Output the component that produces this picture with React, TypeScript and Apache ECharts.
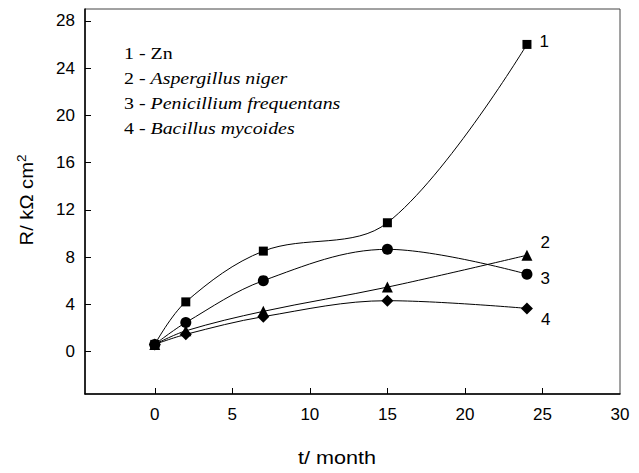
import React, { useEffect, useRef } from "react";
import * as echarts from "echarts";

const months = [0, 2, 7, 15, 24];
const znValues = [0.6, 4.2, 8.5, 10.9, 26.0];
const aspergillusValues = [0.6, 1.75, 3.4, 5.45, 8.15];
const penicilliumValues = [0.6, 2.45, 6.0, 8.65, 6.55];
const bacillusValues = [0.6, 1.45, 2.95, 4.3, 3.65];
const xTickLabels = [0, 5, 10, 15, 20, 25, 30];
const xTickMarks = [0, 5, 10, 15, 20, 25];
const yTickLabels = [0, 4, 8, 12, 16, 20, 24, 28];
const seriesTags = ["1", "2", "3", "4"];
const legendNames = ["Zn", "Aspergillus niger", "Penicillium frequentans", "Bacillus mycoides"];

export default function App() {
  const ref = useRef<HTMLDivElement>(null);
  useEffect(() => {
    if (!ref.current) return;
    const chart = echarts.init(ref.current, null, { renderer: "svg" });
    const mk = (
      vals: number[],
      symbol: string,
      size: number,
      tag: string,
      dy: number
    ) => ({
      type: "line",
      smooth: 0.35,
      symbol,
      symbolSize: size,
      showAllSymbol: true,
      lineStyle: { color: "#000", width: 1 },
      itemStyle: { color: "#000" },
      data: vals.map((v, i) => {
        const d: any = { value: [months[i], v] };
        if (i === vals.length - 1) {
          d.label = {
            show: true,
            formatter: tag,
            position: "right",
            distance: 8,
            offset: [0, dy],
            fontFamily: "Liberation Sans",
            fontSize: 17,
            color: "#000",
          };
        }
        return d;
      }),
      z: 3,
    });
    const legendFont = 17;
    chart.setOption({
      animation: false,
      backgroundColor: "#fff",
      grid: {
        left: 85,
        right: 19,
        top: 9,
        bottom: 79,
        show: true,
        borderColor: "#444",
        borderWidth: 1,
        containLabel: false,
      },
      xAxis: {
        type: "value",
        min: -4.5,
        max: 30,
        splitLine: { show: false },
        axisLine: { onZero: false, lineStyle: { color: "#000", width: 1.5 } },
        axisTick: {
          inside: true,
          length: 6,
          customValues: xTickMarks,
          lineStyle: { color: "#000" },
        },
        axisLabel: {
          customValues: xTickLabels,
          margin: 12,
          fontFamily: "Liberation Sans",
          fontSize: 17,
          color: "#000",
        },
      },
      yAxis: {
        type: "value",
        min: -3.6,
        max: 29,
        splitLine: { show: false },
        axisLine: { show: true, onZero: false, lineStyle: { color: "#000", width: 1.5 } },
        axisTick: {
          show: true,
          inside: true,
          length: 6,
          customValues: yTickLabels,
          lineStyle: { color: "#000" },
        },
        axisLabel: {
          customValues: yTickLabels,
          margin: 10,
          fontFamily: "Liberation Sans",
          fontSize: 17,
          color: "#000",
        },
      },
      graphic: [
        {
          type: "text",
          x: 337,
          y: 458,
          scaleX: 1.2,
          style: {
            text: "t/ month",
            align: "center",
            verticalAlign: "middle",
            font: '18px "Liberation Sans"',
            fill: "#000",
          },
        },
        {
          type: "text",
          x: 27,
          y: 200,
          rotation: Math.PI / 2,
          scaleX: 1.12,
          style: {
            text: "{a|R/ kΩ cm}{s|2}",
            align: "center",
            verticalAlign: "middle",
            fill: "#000",
            rich: {
              a: { fontFamily: "Liberation Sans", fontSize: 18, fill: "#000" },
              s: {
                fontFamily: "Liberation Sans",
                fontSize: 12,
                fill: "#000",
                verticalAlign: "top",
                padding: [0, 0, 11, 0],
              },
            },
          },
        },
        ...legendNames.map((n, i) => ({
          type: "text",
          x: 124,
          y: 53 + i * 25,
          scaleX: 1.17,
          style: {
            text: `{n|${seriesTags[i]} - }{${i === 0 ? "n" : "i"}|${n}}`,
            verticalAlign: "middle",
            rich: {
              n: {
                fontFamily: "Liberation Serif",
                fontSize: legendFont,
                fill: "#000",
              },
              i: {
                fontFamily: "Liberation Serif",
                fontSize: legendFont,
                fontStyle: "italic",
                fill: "#000",
              },
            },
          },
        })),
      ],
      series: [
        mk(znValues, "rect", 9, seriesTags[0], -3),
        mk(aspergillusValues, "triangle", 11, seriesTags[1], -13),
        mk(penicilliumValues, "circle", 11, seriesTags[2], 4),
        mk(bacillusValues, "diamond", 12, seriesTags[3], 11),
      ],
    });
    return () => chart.dispose();
  }, []);
  return <div ref={ref} style={{ width: 639, height: 473, margin: -8 }} />;
}
